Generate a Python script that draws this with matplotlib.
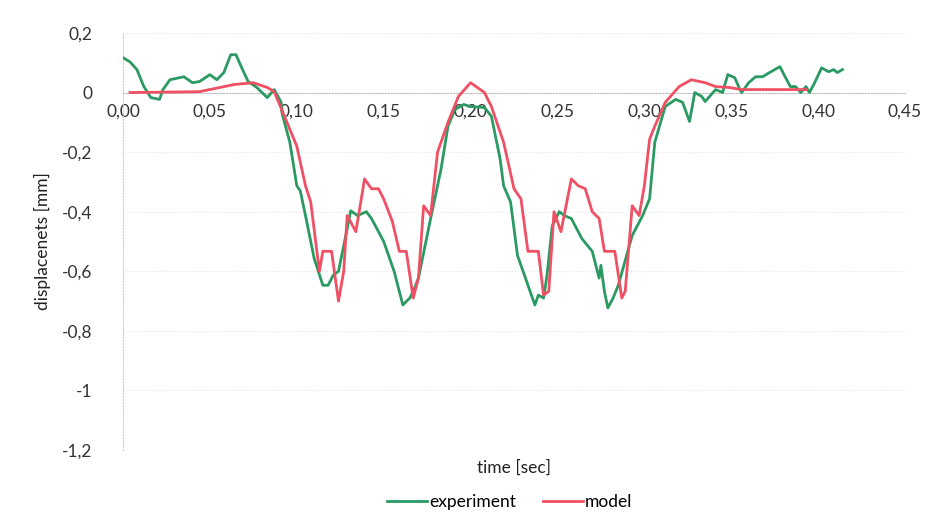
import matplotlib
matplotlib.use("Agg")
import matplotlib.pyplot as plt

plt.rcParams['font.family'] = ['Lato', 'DejaVu Sans']

# experiment (green)
exp_t = [0.000, 0.004, 0.008, 0.012, 0.016, 0.021, 0.023, 0.027, 0.035, 0.040,
         0.044, 0.050, 0.054, 0.058, 0.062, 0.065, 0.068, 0.072, 0.077, 0.083,
         0.087, 0.091, 0.092, 0.096, 0.100, 0.102, 0.105, 0.110, 0.115, 0.118,
         0.121, 0.124, 0.129, 0.131, 0.135, 0.140, 0.143, 0.150, 0.156, 0.161,
         0.165, 0.167, 0.170, 0.177, 0.183, 0.187, 0.191, 0.196, 0.200, 0.208,
         0.212, 0.217, 0.219, 0.223, 0.227, 0.231, 0.235, 0.237, 0.239, 0.242,
         0.244, 0.247, 0.251, 0.254, 0.258, 0.264, 0.270, 0.274, 0.275, 0.277,
         0.279, 0.282, 0.285, 0.293, 0.299, 0.303, 0.306, 0.312, 0.318, 0.322,
         0.326, 0.329, 0.333, 0.335, 0.341, 0.345, 0.348, 0.352, 0.355, 0.356,
         0.360, 0.364, 0.368, 0.372, 0.375, 0.378, 0.381, 0.384, 0.387, 0.390,
         0.393, 0.395, 0.398, 0.402, 0.406, 0.409, 0.411, 0.414]
exp_d = [0.117, 0.103, 0.077, 0.020, -0.017, -0.023, 0.010, 0.043, 0.053, 0.033,
         0.037, 0.060, 0.043, 0.067, 0.127, 0.127, 0.087, 0.037, 0.017, -0.017,
         0.010, -0.033, -0.080, -0.167, -0.313, -0.330, -0.413, -0.557, -0.647, -0.647,
         -0.613, -0.600, -0.457, -0.397, -0.413, -0.400, -0.423, -0.500, -0.600, -0.713,
         -0.690, -0.667, -0.623, -0.423, -0.257, -0.113, -0.057, -0.040, -0.047, -0.050,
         -0.080, -0.223, -0.313, -0.367, -0.547, -0.613, -0.680, -0.713, -0.680, -0.690,
         -0.613, -0.447, -0.400, -0.413, -0.423, -0.490, -0.533, -0.623, -0.580, -0.667,
         -0.723, -0.690, -0.647, -0.480, -0.413, -0.357, -0.167, -0.047, -0.023, -0.033,
         -0.097, 0.000, -0.013, -0.030, 0.010, 0.000, 0.060, 0.050, 0.010, 0.000,
         0.033, 0.053, 0.053, 0.067, 0.077, 0.087, 0.053, 0.020, 0.020, 0.000,
         0.020, 0.000, 0.033, 0.083, 0.070, 0.077, 0.067, 0.077]

# model (red)
mod_t = [0.004, 0.044, 0.064, 0.075, 0.083, 0.087, 0.092, 0.100, 0.105, 0.108,
         0.113, 0.115, 0.120, 0.124, 0.127, 0.129, 0.134, 0.139, 0.143, 0.147,
         0.150, 0.155, 0.159, 0.163, 0.167, 0.170, 0.173, 0.177, 0.181, 0.187,
         0.193, 0.200, 0.208, 0.212, 0.219, 0.225, 0.229, 0.233, 0.239, 0.242,
         0.245, 0.248, 0.252, 0.258, 0.262, 0.266, 0.270, 0.274, 0.277, 0.283,
         0.287, 0.289, 0.293, 0.297, 0.300, 0.303, 0.306, 0.312, 0.320, 0.327,
         0.335, 0.341, 0.349, 0.356, 0.375, 0.393]
mod_d = [0.000, 0.003, 0.027, 0.033, 0.017, 0.003, -0.067, -0.180, -0.313, -0.367,
         -0.600, -0.533, -0.533, -0.700, -0.600, -0.413, -0.467, -0.290, -0.323, -0.323,
         -0.357, -0.433, -0.533, -0.533, -0.690, -0.623, -0.380, -0.413, -0.200, -0.100,
         -0.013, 0.033, 0.000, -0.047, -0.167, -0.323, -0.357, -0.533, -0.533, -0.680,
         -0.667, -0.400, -0.467, -0.290, -0.313, -0.323, -0.400, -0.423, -0.533, -0.533,
         -0.690, -0.667, -0.380, -0.413, -0.313, -0.157, -0.113, -0.033, 0.020, 0.043,
         0.033, 0.020, 0.017, 0.010, 0.010, 0.010]

x_ticks = [0.00, 0.05, 0.10, 0.15, 0.20, 0.25, 0.30, 0.35, 0.40, 0.45]
x_labels = ["0,00", "0,05", "0,10", "0,15", "0,20", "0,25", "0,30", "0,35", "0,40", "0,45"]
y_ticks = [0.2, 0.0, -0.2, -0.4, -0.6, -0.8, -1.0, -1.2]
y_labels = ["0,2", "0", "-0,2", "-0,4", "-0,6", "-0,8", "-1", "-1,2"]

fig = plt.figure(figsize=(9.27, 5.26), dpi=100)
ax = fig.add_axes([0.1327, 0.1445, 0.8436, 0.7928])

ax.plot(exp_t, exp_d, color="#2a9a62", lw=2.0, label="experiment", zorder=3)
ax.plot(mod_t, mod_d, color="#f05064", lw=2.0, label="model", zorder=4)

ax.set_xlim(0, 0.45)
ax.set_ylim(-1.2, 0.2)
ax.set_xticks(x_ticks)
ax.set_xticklabels(x_labels)
ax.set_yticks(y_ticks)
ax.set_yticklabels(y_labels)
ax.tick_params(length=0, labelsize=12.5, colors="#333333")
ax.tick_params(axis="y", pad=22)
ax.tick_params(axis="x", pad=8)

ax.grid(axis="y", color="#e4e4e4", lw=0.7, ls=":")
ax.spines["top"].set_visible(False)
ax.spines["right"].set_visible(False)
ax.spines["left"].set_color("#cfcfcf")
ax.spines["left"].set_linestyle(":")
ax.spines["bottom"].set_position(("data", 0))
ax.spines["bottom"].set_color("#bdbdbd")
ax.spines["bottom"].set_linestyle(":")

ax.set_ylabel("displacenets [mm]", fontsize=12.5, color="#222222", labelpad=8)
ax.set_xlabel("time [sec]", fontsize=12.5, color="#222222")
ax.xaxis.set_label_coords(0.5, -0.022)

fig.legend(loc="lower center", bbox_to_anchor=(0.55, 0.0), ncol=2, frameon=False,
           fontsize=12.5, handlelength=2.3, handletextpad=0.1, columnspacing=1.6)

fig.savefig("out.png", dpi=100)
